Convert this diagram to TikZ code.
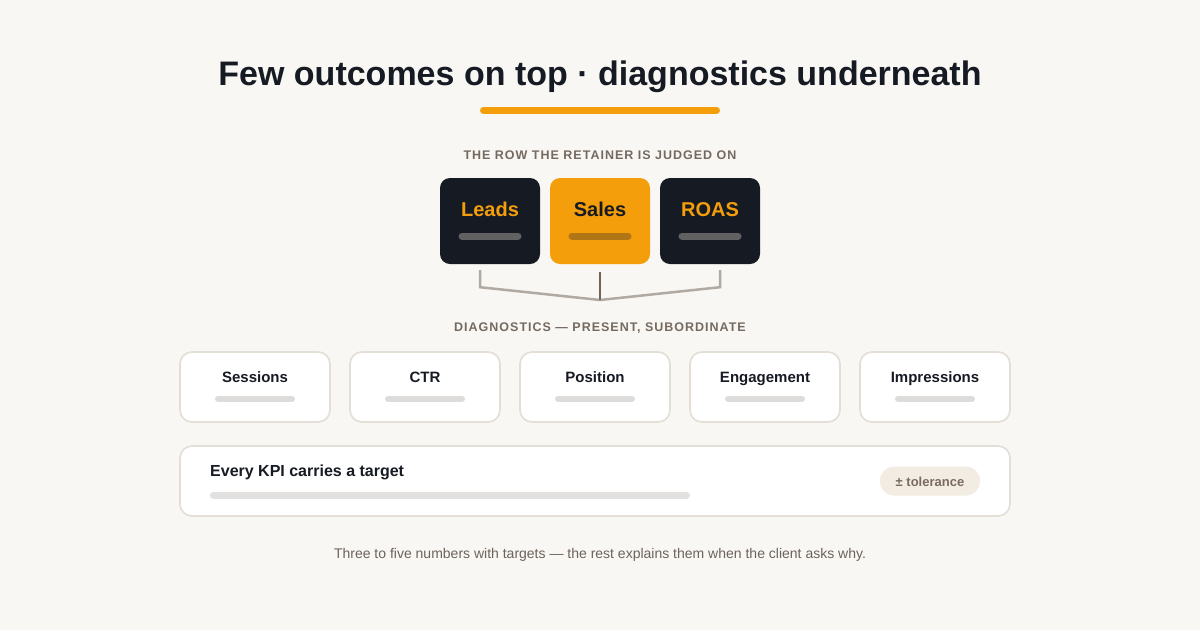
\documentclass[tikz,border=0pt]{standalone}
\usepackage{fontspec}
\setmainfont{Liberation Sans}
\definecolor{bg}{HTML}{F8F7F4}
\definecolor{ink}{HTML}{161A22}
\definecolor{amber}{HTML}{F59E0B}
\definecolor{taupe}{HTML}{756A60}
\definecolor{rim}{HTML}{E3DED6}
\definecolor{barl}{HTML}{DDDCDA}
\begin{document}
\begin{tikzpicture}[x=1pt,y=-1pt,
    card/.style={rounded corners=10pt, minimum width=100pt, minimum height=86pt, inner sep=0pt},
    diag/.style={draw=rim, line width=1.6pt, fill=white, rounded corners=12pt, minimum width=150pt, minimum height=70pt, inner sep=0pt},
    caption/.style={anchor=base, inner sep=0pt, text=taupe, font=\fontsize{12.5}{14}\selectfont\bfseries\addfontfeature{LetterSpace=8}},
    label/.style={anchor=base, inner sep=0pt, font=\fontsize{20}{24}\selectfont\bfseries},
    bar/.style={line width=7pt, line cap=round}]
    % Background
    \fill [bg] (0,0) rectangle (1200,630);
    \useasboundingbox (0,0) rectangle (1200,630);

    % Title
    \node [anchor=base, inner sep=0pt, text=ink, font=\fontsize{34}{40}\selectfont\bfseries] (title) at (600,85) {Few outcomes on top · diagnostics underneath};
    \draw [amber, line width=7pt, line cap=round] (483.5,110)--(716.5,110);

    % Outcomes
    \node [caption] (top) at (600,159) {THE ROW THE RETAINER IS JUDGED ON};
    \node [card, fill=ink] (leads) at (490,221) {};
    \node [card, fill=amber] (sales) at (600,221) {};
    \node [card, fill=ink] (roas) at (710,221) {};
    \node [label, text=amber] at (490,216) {Leads};
    \node [label, text=ink] at (600,216) {Sales};
    \node [label, text=amber] at (710,216) {ROAS};
    \draw [bar, color=black!62] (462,236)--(518,236);
    \draw [bar, color=black!62] (682,236)--(738,236);
    \draw [bar, color={rgb,255:red,176;green,117;blue,20}] (572,236)--(628,236);

    % Bracket
    \coordinate (join) at (600,300);
    \draw [color={rgb,255:red,176;green,170;blue,163}, line width=2.5pt] ([xshift=-10pt,yshift=-6pt]leads.south)--++(0,17)--(join);
    \draw [color={rgb,255:red,176;green,170;blue,163}, line width=2.5pt] ([xshift=10pt,yshift=-6pt]roas.south)--++(0,17)--(join);
    \draw [color={rgb,255:red,110;green,98;blue,89}, line width=2.5pt] ([yshift=-8pt]sales.south)--(join);

    % Diagnostics
    \node [caption] (sub) at (600,331.5) {DIAGNOSTICS — PRESENT, SUBORDINATE};
    \foreach \name [count=\i] in {Sessions,CTR,Position,Engagement,Impressions} {
        \node [diag] (d\i) at (85+\i*170,387) {};
        \node [anchor=base, inner sep=0pt, text=ink, font=\fontsize{15}{18}\selectfont\bfseries] at (85+\i*170,382) {\name};
        \draw [bar, color=barl, line width=6pt] (48+\i*170,399)--(122+\i*170,399);
    }

    % Targets
    \node [diag, minimum width=830pt] (kpi) at (595,481) {};
    \node [anchor=base west, inner sep=0pt, text=ink, font=\fontsize{16}{19}\selectfont\bfseries] (every) at (210,476) {Every KPI carries a target};
    \draw [bar, color=barl!85] (213.5,495.5)--(686.5,495.5);
    \node [fill={rgb,255:red,243;green,236;blue,227}, rounded corners=14pt, minimum width=100pt, minimum height=29pt, inner sep=0pt] (tol) at (930,481) {};
    \node [anchor=base, inner sep=0pt, text={rgb,255:red,122;green,107;blue,94}, font=\fontsize{13}{15}\selectfont\bfseries] at (930,486) {± tolerance};

    % Footnote
    \node [anchor=base, inner sep=0pt, text={rgb,255:red,109;green,98;blue,90}, font=\fontsize{14}{17}\selectfont] (foot) at (600,558) {Three to five numbers with targets — the rest explains them when the client asks why.};
\end{tikzpicture}
\end{document}
